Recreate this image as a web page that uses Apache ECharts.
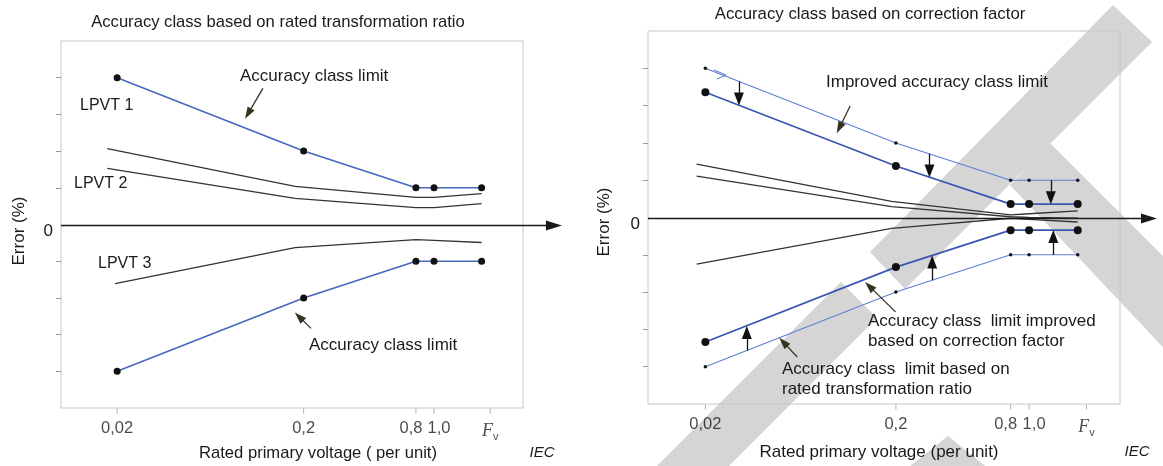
<!DOCTYPE html>
<html><head><meta charset="utf-8">
<script src="https://cdn.jsdelivr.net/npm/echarts@6/dist/echarts.min.js"></script>
<style>html,body{margin:0;padding:0;background:#fff}#c{width:1163px;height:466px}</style>
</head><body><div id="c"></div>
<script>
// ---------- data (x = rated primary voltage per unit, y = error units) ----------
const X_LIMIT = [0.02, 0.2, 0.8, 1.0, 1.8];
const X_TICKS = [0.02, 0.2, 0.8, 1.0, 2.0];
const X_TICK_LABELS = ['0,02', '0,2', '0,8', '1,0', 'Fv'];

// left panel: accuracy class based on rated transformation ratio
const L_LIMIT_UP = [4, 2, 1, 1, 1];
const L_LIMIT_LOW = [-4, -2, -1, -1, -1];
const L_LPVT12_X = [0.0177, 0.18, 0.8, 1.0, 1.8];
const L_LPVT1 = [2.07, 1.04, 0.74, 0.74, 0.84];
const L_LPVT2 = [1.53, 0.71, 0.46, 0.46, 0.57];
const L_LPVT3_X = [0.0195, 0.18, 0.8, 1.0, 1.8];
const L_LPVT3 = [-1.61, -0.63, -0.41, -0.43, -0.49];

// right panel: accuracy class based on correction factor
const R_OUTER_UP = [4, 2, 1, 1, 1];
const R_OUTER_LOW = [-4, -2, -1, -1, -1];
const R_IMPR_UP = [3.36, 1.38, 0.36, 0.36, 0.36];
const R_IMPR_LOW = [-3.34, -1.33, -0.34, -0.34, -0.34];
const R_CURVE_X = [0.018, 0.19, 0.8, 1.0, 1.8];
const R_CURVE_A = [1.43, 0.43, 0.07, 0.1, 0.18];
const R_CURVE_B = [1.11, 0.29, 0.02, 0.0, -0.02];
const R_CURVE_C = [-1.25, -0.29, -0.02, -0.05, -0.12];

// vertical correction arrows (x, from y, to y)
const R_ARROW_X = [0.03, 0.3, 1.3, 0.033, 0.31, 1.34];
const R_ARROW_FROM = [3.65, 1.71, 1.0, -3.57, -1.68, -1.0];
const R_ARROW_TO = [3.18, 1.25, 0.53, -3.08, -1.19, -0.51];

// pointer arrows for the labels ([fromX, fromY], [toX, toY])
const L_POINTERS = [[[0.121, 3.71], [0.1007, 3.02]], [[0.219, -2.83], [0.189, -2.51]]];
const R_POINTERS = [[[0.115, 2.99], [0.101, 2.40]], [[0.199, -2.53], [0.145, -1.84]], [[0.0607, -3.74], [0.0513, -3.34]]];

// zero-axis arrow span (x from, x of arrow tip)
const ZERO_START = 0.01;
const ZERO_END = [4.85, 4.69];

// ---------- styling ----------
const FONT = '"Liberation Sans", Arial, sans-serif';
const TXT = '#1a1a1a';
const BLUE = '#4767c0';
const BLUE_DARK = '#3b56b0';
const BLUE_LIGHT = '#5b7fd3';
const CURVE = '#333333';
const OLIVE = '#34341f';
const GRAY_WM = '#d5d5d5';
const TICK_LABEL_NUDGE = [0, 0, -5, 5, 0];

function pts(xs, ys) { return xs.map((x, i) => [x, ys[i]]); }

const grids = [
  {left: 61, top: 41, width: 462, height: 367},
  {left: 648, top: 31, width: 472, height: 373}
];

function xAxis(i) {
  return {type: 'log', logBase: 10, min: 0.01, max: 3, gridIndex: i,
    axisLine: {show: false}, axisTick: {show: false}, axisLabel: {show: false}, splitLine: {show: false}};
}
function yAxis(i) {
  return {type: 'value', min: -5, max: 5, interval: 1, gridIndex: i,
    axisLine: {show: false}, splitLine: {show: false},
    axisTick: {show: true, length: 5, lineStyle: {color: '#9a9a9a'}, customValues: [-4, -3, -2, -1, 1, 2, 3, 4]},
    axisLabel: {customValues: [0], formatter: v => (v === 0 ? '{a|0}' : ''), margin: 8,
      rich: {a: {fontSize: 17, fontFamily: FONT, color: TXT, padding: [13, 0, 0, 0]}}}};
}

function lineS(i, data, color, width, sym, symSize, extra) {
  return Object.assign({type: 'line', xAxisIndex: i, yAxisIndex: i, data: data,
    symbol: sym || 'none', symbolSize: symSize || 0, showSymbol: !!sym, showAllSymbol: true,
    itemStyle: {color: '#111'}, lineStyle: {color: color, width: width},
    silent: true, animation: false, z: 3}, extra || {});
}

function arrowMarks(pairs, color, size) {
  return {silent: true, animation: false, symbol: ['none', 'triangle'], symbolSize: size,
    label: {show: false}, lineStyle: {color: color, width: 1.3, type: 'solid'},
    emphasis: {disabled: true},
    data: pairs.map(p => [{coord: p[0]}, {coord: p[1]}])};
}

function tickSeries(i) {
  return {type: 'scatter', xAxisIndex: i, yAxisIndex: i, clip: false, silent: true, animation: false,
    data: X_TICKS.map((x, k) => ({value: [x, -5], label: {offset: [TICK_LABEL_NUDGE[k], 0]}})),
    symbol: 'rect', symbolSize: [1, 5], symbolOffset: [0, 3],
    itemStyle: {color: '#9a9a9a'},
    label: {show: true, position: 'bottom', distance: 6, color: TXT, fontSize: 16.5, fontFamily: FONT,
      formatter: p => (X_TICK_LABELS[p.dataIndex] === 'Fv' ? '{f|F}{v|v}' : X_TICK_LABELS[p.dataIndex]),
      rich: {f: {fontFamily: '"Liberation Serif", "DejaVu Serif", serif', fontStyle: 'italic', fontSize: 18, color: TXT},
             v: {fontFamily: FONT, fontSize: 11, color: TXT, padding: [12, 0, 0, 0]}}}};
}

const verticalPairs = R_ARROW_X.map((x, k) => [[x, R_ARROW_FROM[k]], [x, R_ARROW_TO[k]]]);

const series = [
  // left panel
  lineS(0, pts(L_LPVT12_X, L_LPVT1), CURVE, 1.3, null, 0, {markLine: arrowMarks(L_POINTERS, OLIVE, [8, 12])}),
  lineS(0, pts(L_LPVT12_X, L_LPVT2), CURVE, 1.3),
  lineS(0, pts(L_LPVT3_X, L_LPVT3), CURVE, 1.3),
  lineS(0, pts(X_LIMIT, L_LIMIT_UP), BLUE, 1.6, 'circle', 7),
  lineS(0, pts(X_LIMIT, L_LIMIT_LOW), BLUE, 1.6, 'circle', 7),
  tickSeries(0),
  // right panel
  lineS(1, pts(R_CURVE_X, R_CURVE_A), CURVE, 1.3, null, 0, {markLine: arrowMarks(R_POINTERS, OLIVE, [8, 12])}),
  lineS(1, pts(R_CURVE_X, R_CURVE_B), CURVE, 1.3),
  lineS(1, pts(R_CURVE_X, R_CURVE_C), CURVE, 1.3),
  lineS(1, pts(X_LIMIT, R_OUTER_UP), BLUE_LIGHT, 1.1, 'circle', 3.5, {markLine: arrowMarks(verticalPairs, '#111', [10, 13])}),
  lineS(1, pts(X_LIMIT, R_OUTER_LOW), BLUE_LIGHT, 1.1, 'circle', 3.5),
  lineS(1, pts(X_LIMIT, R_IMPR_UP), BLUE_DARK, 1.7, 'circle', 8),
  lineS(1, pts(X_LIMIT, R_IMPR_LOW), BLUE_DARK, 1.7, 'circle', 8),
  tickSeries(1)
];

function txt(x, y, s, opts) {
  opts = opts || {};
  return {type: 'text', x: x, y: y, z: 50, silent: true, rotation: opts.rot || 0,
    style: {text: s, fill: TXT, font: (opts.italic ? 'italic ' : '') + (opts.size || 17) + 'px ' + FONT,
      align: opts.align || 'left', verticalAlign: 'middle', textAlign: opts.align || 'left', textVerticalAlign: 'middle'}};
}
function poly(points) {
  return {type: 'polygon', z: -20, silent: true, shape: {points: points}, style: {fill: GRAY_WM}};
}

const graphic = [
  // watermark bands over the right panel
  poly([[1113, 5], [1152, 42], [905, 289], [870, 252]]),
  poly([[1050, 143], [1260, 353], [1260, 450], [1010, 185]]),
  poly([[841, 282], [877, 318], [695, 500], [623, 500]]),
  poly([[905, 470], [948, 436], [990, 470]]),
  // titles
  txt(278, 22, 'Accuracy class based on rated transformation ratio', {align: 'center', size: 16.6}),
  txt(870, 14, 'Accuracy class based on correction factor', {align: 'center', size: 16.8}),
  // left labels
  txt(240, 76, 'Accuracy class limit'),
  txt(80, 106, 'LPVT 1', {size: 16}),
  txt(74, 184, 'LPVT 2', {size: 16}),
  txt(98, 264, 'LPVT 3', {size: 16}),
  txt(309, 345, 'Accuracy class limit'),
  txt(19, 231, 'Error (%)', {align: 'center', rot: Math.PI / 2}),
  txt(318, 453, 'Rated primary voltage ( per unit)', {align: 'center', size: 16.6}),
  txt(542, 453, 'IEC', {align: 'center', italic: true, size: 15}),
  // right labels
  txt(826, 82, 'Improved accuracy class limit'),
  txt(868, 321, 'Accuracy class  limit improved'),
  txt(868, 341, 'based on correction factor'),
  txt(782, 369, 'Accuracy class  limit based on'),
  txt(782, 389, 'rated transformation ratio'),
  txt(604, 222, 'Error (%)', {align: 'center', rot: Math.PI / 2}),
  txt(879, 452, 'Rated primary voltage (per unit)', {align: 'center', size: 17}),
  txt(1137, 452, 'IEC', {align: 'center', italic: true, size: 15}),
  // small hand-drawn mark on the upper limit line
  {type: 'polyline', z: 40, silent: true, shape: {points: [[714, 70], [726, 75], [717, 79]]}, style: {stroke: '#4a7bd0', lineWidth: 1, fill: null}}
];

const chart = echarts.init(document.getElementById('c'), null, {renderer: 'canvas'});
const baseOption = {
  animation: false,
  backgroundColor: '#ffffff',
  grid: grids.map(g => Object.assign({show: true, borderColor: '#c6c6c6', borderWidth: 1, backgroundColor: 'transparent', containLabel: false}, g)),
  xAxis: [xAxis(0), xAxis(1)],
  yAxis: [yAxis(0), yAxis(1)],
  series: series
};
chart.setOption(baseOption);

// zero axis with arrow head, positioned through the panels' own scales
const zeroEls = [];
[0, 1].forEach(i => {
  const a = chart.convertToPixel({xAxisIndex: i, yAxisIndex: i}, [ZERO_START, 0]);
  const b = chart.convertToPixel({xAxisIndex: i, yAxisIndex: i}, [ZERO_END[i], 0]);
  const y = Math.round(a[1]) + 0.5;
  zeroEls.push({type: 'line', z: 30, silent: true, shape: {x1: a[0], y1: y, x2: b[0] - 10, y2: y},
    style: {stroke: '#1a1a1a', lineWidth: 1.6}});
  zeroEls.push({type: 'polygon', z: 31, silent: true,
    shape: {points: [[b[0], y], [b[0] - 16, y - 5], [b[0] - 16, y + 5]]}, style: {fill: '#1a1a1a'}});
});
chart.setOption({graphic: graphic.concat(zeroEls)});
</script>
</body></html>
